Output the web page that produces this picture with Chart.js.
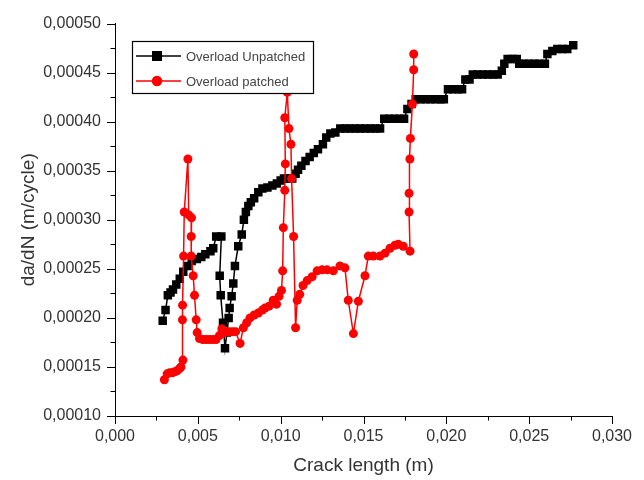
<!DOCTYPE html>
<html lang="en">
<head>
<meta charset="UTF-8">
<title>da/dN - Crack length</title>
<script src="https://cdn.jsdelivr.net/npm/chart.js@4.4.0/dist/chart.umd.min.js"></script>
<style>
	html, body { margin: 0; padding: 0; background: #fff; }
	.box { width: 644px; height: 480px; position: relative; }
</style>
</head>
<body>
<div class="box"><canvas id="myChart"></canvas></div>
<script>
// Overload Unpatched (black squares)
var unpX = [0.00288, 0.00305, 0.00319, 0.00335, 0.00350, 0.00370, 0.00391, 0.00412, 0.00438, 0.00463,
	0.00494, 0.00521, 0.00545, 0.00576, 0.00593, 0.00611, 0.00642, 0.00632, 0.00638, 0.00652,
	0.00664, 0.00676, 0.00686, 0.00692, 0.00704, 0.00714, 0.00724, 0.00744, 0.00765, 0.00778,
	0.00790, 0.00805, 0.00820, 0.00840, 0.00865, 0.00890, 0.00920, 0.00950, 0.00977, 0.01000,
	0.01020, 0.01045, 0.01070, 0.01090, 0.01105, 0.01125, 0.01150, 0.01175, 0.01200, 0.01225,
	0.01255, 0.01275, 0.01300, 0.01330, 0.01360, 0.01390, 0.01420, 0.01450, 0.01480, 0.01510,
	0.01540, 0.01570, 0.01600, 0.01625, 0.01655, 0.01685, 0.01715, 0.01745, 0.01765, 0.01790,
	0.01815, 0.01845, 0.01875, 0.01905, 0.01935, 0.01965, 0.01985, 0.02010, 0.02040, 0.02070,
	0.02095, 0.02115, 0.02140, 0.02160, 0.02190, 0.02220, 0.02250, 0.02280, 0.02310, 0.02335,
	0.02350, 0.02370, 0.02400, 0.02425, 0.02440, 0.02470, 0.02500, 0.02530, 0.02560, 0.02595,
	0.02610, 0.02640, 0.02670, 0.02700, 0.02730, 0.02766];
var unpY = [0.000197, 0.000208, 0.000223, 0.000226, 0.000229, 0.000234, 0.000240, 0.000247, 0.000253, 0.000258,
	0.000260, 0.000262, 0.000265, 0.000268, 0.000271, 0.000283, 0.000283, 0.000243, 0.000223, 0.000195,
	0.000169, 0.000185, 0.000200, 0.000210, 0.000222, 0.000235, 0.000253, 0.000273, 0.000285, 0.000300,
	0.000308, 0.000314, 0.000318, 0.000322, 0.000328, 0.000332, 0.000333, 0.000335, 0.000337, 0.000340,
	0.000342, 0.000342, 0.000342, 0.000347, 0.000351, 0.000355, 0.000360, 0.000364, 0.000368, 0.000372,
	0.000377, 0.000384, 0.000388, 0.000389, 0.000393, 0.000393, 0.000393, 0.000393, 0.000393, 0.000393,
	0.000393, 0.000393, 0.000393, 0.000403, 0.000403, 0.000403, 0.000403, 0.000403, 0.000413, 0.000418,
	0.000423, 0.000423, 0.000423, 0.000423, 0.000423, 0.000423, 0.000423, 0.000433, 0.000433, 0.000433,
	0.000433, 0.000443, 0.000443, 0.000448, 0.000448, 0.000448, 0.000448, 0.000448, 0.000448, 0.000452,
	0.000459, 0.000464, 0.000464, 0.000464, 0.000459, 0.000459, 0.000459, 0.000459, 0.000459, 0.000459,
	0.000469, 0.000472, 0.000474, 0.000474, 0.000474, 0.000478];

// Overload patched (red circles)
var patX = [0.00298, 0.00315, 0.00330, 0.00345, 0.00360, 0.00375, 0.00388, 0.00398, 0.00410, 0.00407,
	0.00408, 0.00414, 0.00418, 0.00440, 0.00445, 0.00462, 0.00460, 0.00460, 0.00472, 0.00480,
	0.00490, 0.00496, 0.00510, 0.00530, 0.00550, 0.00570, 0.00590, 0.00610, 0.00630, 0.00645,
	0.00660, 0.00675, 0.00690, 0.00710, 0.00728, 0.00755, 0.00775, 0.00795, 0.00815, 0.00840,
	0.00865, 0.00890, 0.00905, 0.00930, 0.00955, 0.00975, 0.00990, 0.01005, 0.01012, 0.01016,
	0.01025, 0.01028, 0.01025, 0.01040, 0.01050, 0.01062, 0.01066, 0.01078, 0.01090, 0.01100,
	0.01115, 0.01135, 0.01160, 0.01190, 0.01220, 0.01250, 0.01280, 0.01318, 0.01358, 0.01388,
	0.01408, 0.01439, 0.01469, 0.01509, 0.01529, 0.01559, 0.01599, 0.01630, 0.01660, 0.01690,
	0.01710, 0.01740, 0.01781, 0.01775, 0.01775, 0.01780, 0.01783, 0.01795, 0.01803, 0.01803];
var patY = [0.000137, 0.000143, 0.000144, 0.000144, 0.000145, 0.000146, 0.000148, 0.000150, 0.000157, 0.000198,
	0.000213, 0.000263, 0.000308, 0.000362, 0.000305, 0.000302, 0.000283, 0.000263, 0.000243, 0.000223,
	0.000198, 0.000185, 0.000179, 0.000178, 0.000178, 0.000178, 0.000178, 0.000178, 0.000182, 0.000189,
	0.000185, 0.000186, 0.000186, 0.000186, 0.000186, 0.000174, 0.000190, 0.000195, 0.000200, 0.000203,
	0.000205, 0.000208, 0.000210, 0.000212, 0.000218, 0.000214, 0.000222, 0.000228, 0.000248, 0.000292,
	0.000330, 0.000357, 0.000404, 0.000430, 0.000393, 0.000377, 0.000342, 0.000283, 0.000190, 0.000218,
	0.000224, 0.000233, 0.000238, 0.000242, 0.000248, 0.000249, 0.000249, 0.000248, 0.000253, 0.000251,
	0.000218, 0.000184, 0.000217, 0.000243, 0.000263, 0.000263, 0.000263, 0.000266, 0.000271, 0.000274,
	0.000275, 0.000273, 0.000268, 0.000308, 0.000327, 0.000362, 0.000383, 0.000418, 0.000453, 0.000469];

var seriesNames = ["Overload Unpatched", "Overload patched"];
var xTickLabels = ["0,000", "0,005", "0,010", "0,015", "0,020", "0,025", "0,030"];
var yTickLabels = ["0,00010", "0,00015", "0,00020", "0,00025", "0,00030", "0,00035", "0,00040", "0,00045", "0,00050"];

function toPoints(xs, ys) {
	var pts = [];
	for (var i = 0; i < xs.length; i++) pts.push({x: xs[i], y: ys[i]});
	return pts;
}

var FONT = "'Liberation Sans', Arial, sans-serif";

// short/long tick marks pointing outward (major every second tick)
var tickMarks = {
	id: 'tickMarks',
	afterDraw: function(chart) {
		var ctx = chart.ctx, xs = chart.scales.x, ys = chart.scales.y;
		ctx.save();
		ctx.strokeStyle = '#000';
		ctx.lineWidth = 1;
		ctx.beginPath();
		xs.ticks.forEach(function(t, i) {
			var px = Math.round(xs.getPixelForValue(t.value)) + 0.5;
			ctx.moveTo(px, xs.top);
			ctx.lineTo(px, xs.top + (i % 2 === 0 ? 8 : 4.5));
		});
		ys.ticks.forEach(function(t, i) {
			var py = Math.round(ys.getPixelForValue(t.value)) + 0.5;
			ctx.moveTo(ys.right, py);
			ctx.lineTo(ys.right - (i % 2 === 0 ? 8 : 4.5), py);
		});
		ctx.stroke();
		ctx.restore();
	}
};

// boxed legend inside the plot, upper left
var boxLegend = {
	id: 'boxLegend',
	afterDraw: function(chart) {
		var ctx = chart.ctx;
		var bx = 132, by = 41, bw = 181, bh = 52;
		ctx.save();
		ctx.fillStyle = '#fff';
		ctx.fillRect(bx, by, bw, bh);
		ctx.strokeStyle = '#000';
		ctx.lineWidth = 1.2;
		ctx.strokeRect(bx + 0.5, by + 0.5, bw, bh);
		chart.data.datasets.forEach(function(ds, i) {
			var ry = by + 15 + i * 25;
			ctx.strokeStyle = ds.borderColor;
			ctx.lineWidth = 1.5;
			ctx.beginPath();
			ctx.moveTo(bx + 4, ry);
			ctx.lineTo(bx + 49, ry);
			ctx.stroke();
			Chart.helpers.drawPoint(ctx, {
				pointStyle: ds.pointStyle, radius: ds.pointRadius, borderWidth: 1
			}, bx + 25, ry);
			ctx.fillStyle = ds.backgroundColor;
			ctx.fill();
			ctx.fillStyle = '#444';
			ctx.font = '13px ' + FONT;
			ctx.textBaseline = 'middle';
			ctx.fillText(ds.label, bx + 54, ry + 1);
		});
		ctx.restore();
	}
};

var ctx = document.getElementById("myChart");
var myChart = new Chart(ctx, {
	type: 'line',
	data: {
		datasets: [{
			label: seriesNames[0],
			data: toPoints(unpX, unpY),
			borderColor: '#000',
			backgroundColor: '#000',
			borderWidth: 1.5,
			pointStyle: 'rect',
			pointRadius: 6,
			pointBorderWidth: 0,
			tension: 0,
			order: 1
		}, {
			label: seriesNames[1],
			data: toPoints(patX, patY),
			borderColor: '#ff0000',
			backgroundColor: '#ff0000',
			borderWidth: 1.5,
			pointStyle: 'circle',
			pointRadius: 4.5,
			pointBorderWidth: 0,
			tension: 0,
			order: 0
		}]
	},
	options: {
		responsive: true,
		maintainAspectRatio: false,
		animation: false,
		devicePixelRatio: 1,
		layout: { padding: { left: 0, top: 21, right: 32, bottom: 0 } },
		plugins: {
			legend: { display: false },
			tooltip: { enabled: false }
		},
		scales: {
			x: {
				type: 'linear',
				min: 0,
				max: 0.03,
				afterFit: function(s) { s.height = 64; },
				grid: { display: false, drawTicks: false },
				border: { display: true, color: '#000', width: 1 },
				ticks: {
					stepSize: 0.0025,
					autoSkip: false,
					maxRotation: 0,
					padding: 11,
					color: '#333',
					font: { family: FONT, size: 16 },
					callback: function(v, i) { return i % 2 === 0 ? xTickLabels[i / 2] : ''; }
				},
				title: {
					display: true,
					text: 'Crack length (m)',
					color: '#333',
					font: { family: FONT, size: 19 },
					padding: { top: 0, bottom: 3 }
				}
			},
			y: {
				min: 0.0001,
				max: 0.0005,
				afterFit: function(s) { s.width = 115; },
				grid: { display: false, drawTicks: false },
				border: { display: true, color: '#000', width: 1 },
				ticks: {
					stepSize: 0.000025,
					autoSkip: false,
					padding: 14,
					color: '#333',
					font: { family: FONT, size: 16 },
					callback: function(v, i) { return i % 2 === 0 ? yTickLabels[i / 2] : ''; }
				},
				title: {
					display: true,
					text: 'da/dN (m/cycle)',
					color: '#333',
					font: { family: FONT, size: 19 },
					padding: { top: 17, bottom: 0 }
				}
			}
		}
	},
	plugins: [tickMarks, boxLegend]
});
</script>
</body>
</html>
